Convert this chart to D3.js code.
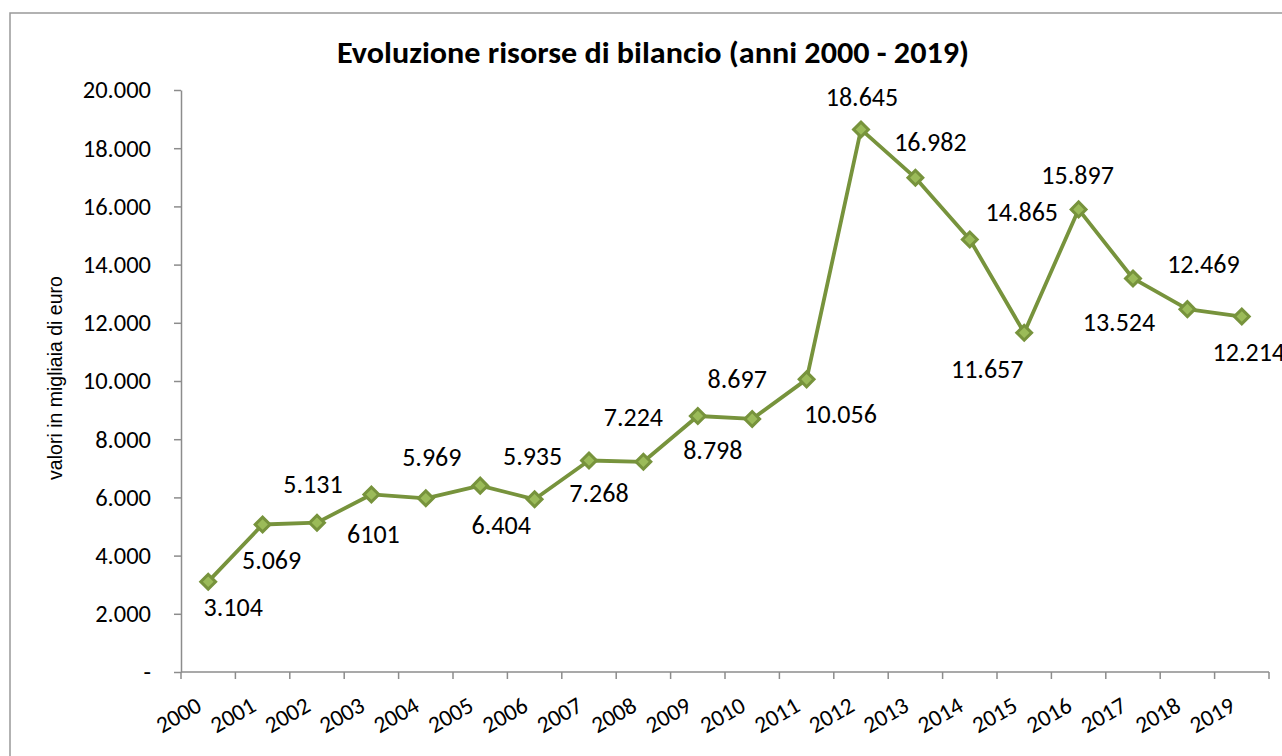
<!DOCTYPE html>
<html>
<head>
<meta charset="utf-8">
<script src="https://cdn.jsdelivr.net/npm/d3@7"></script>
<style>
  body { margin: 0; background: #fff; }
  svg { display: block; }
</style>
</head>
<body>
<svg width="1282" height="756"></svg>
<script>
// data
const years = ["2000", "2001", "2002", "2003", "2004", "2005", "2006", "2007", "2008", "2009",
    "2010", "2011", "2012", "2013", "2014", "2015", "2016", "2017", "2018", "2019"];
const values = [3104, 5069, 5131, 6101, 5969, 6404, 5935, 7268, 7224, 8798,
    8697, 10056, 18645, 16982, 14865, 11657, 15897, 13524, 12469, 12214];
const valueLabels = ["3.104", "5.069", "5.131", "6101", "5.969", "6.404", "5.935", "7.268", "7.224", "8.798",
    "8.697", "10.056", "18.645", "16.982", "14.865", "11.657", "15.897", "13.524", "12.469", "12.214"];
const yTicks = [0, 2000, 4000, 6000, 8000, 10000, 12000, 14000, 16000, 18000, 20000];

// where excel put each data label, relative to its point
const labelOffsets = [[25, 25], [9, 35], [-4, -39], [2, 39], [6, -42], [21, 39], [-2, -44], [10, 32],
    [-10, -45], [15, 34], [-15, -40], [34, 34], [1, -33], [15, -36], [52, -28], [-37, 36],
    [-1, -35], [-14, 43], [16, -46], [7, 35]];

const svg = d3.select("svg");
const font = "Carlito, Calibri, 'Open Sans', sans-serif";
const lineColor = "#77933c",
    markerFill = "#9bbb59",
    axisColor = "#8c8c8c";

const plot = { left: 181, right: 1269, top: 90, bottom: 672 };

// chart frame (runs off the right and bottom edges)
svg.append("rect")
    .attr("x", 10).attr("y", 13)
    .attr("width", 1400).attr("height", 900)
    .attr("fill", "#fff")
    .attr("stroke", "#999").attr("stroke-width", 1.5);

const x = d3.scaleBand().domain(years).range([plot.left, plot.right]);
const y = d3.scaleLinear().domain([0, 20000]).range([plot.bottom, plot.top]);
const cx = d => x(d) + x.bandwidth() / 2;

// title
svg.append("text")
    .attr("x", 653).attr("y", 63)
    .attr("text-anchor", "middle")
    .attr("font-family", font)
    .attr("font-weight", "bold")
    .attr("font-size", 30)
    .attr("textLength", 632)
    .attr("lengthAdjust", "spacingAndGlyphs")
    .text("Evoluzione risorse di bilancio (anni 2000 - 2019)");

// y axis
const itFormat = d3.formatLocale({ decimal: ",", thousands: ".", grouping: [3], currency: ["€", ""] }).format(",");
const yAxis = svg.append("g")
    .attr("transform", `translate(${plot.left},0)`)
    .call(d3.axisLeft(y)
        .tickValues(yTicks)
        .tickSize(7)
        .tickSizeOuter(0)
        .tickPadding(23)
        .tickFormat(d => d === 0 ? "-" : itFormat(d)));
yAxis.select(".domain").attr("stroke", axisColor).attr("stroke-width", 1.5);
yAxis.selectAll(".tick line").attr("stroke", axisColor).attr("stroke-width", 1.5);
yAxis.selectAll(".tick text")
    .attr("font-family", font)
    .attr("font-size", 24.5)
    .attr("fill", "#000");

svg.append("text")
    .attr("transform", "translate(55,378) rotate(-90)")
    .attr("text-anchor", "middle")
    .attr("dy", "0.35em")
    .attr("font-family", "'Liberation Sans', Arial, sans-serif")
    .attr("font-size", 19.5)
    .text("valori in migliaia di euro");

// x axis: ticks sit on the category boundaries
const xAxis = svg.append("g");
xAxis.append("line")
    .attr("x1", plot.left).attr("x2", plot.right)
    .attr("y1", plot.bottom).attr("y2", plot.bottom)
    .attr("stroke", axisColor).attr("stroke-width", 1.5);
xAxis.selectAll(".xtick")
    .data(years.map(d => x(d)).concat([plot.right]))
    .join("line")
    .attr("class", "xtick")
    .attr("x1", d => d).attr("x2", d => d)
    .attr("y1", plot.bottom).attr("y2", plot.bottom + 7)
    .attr("stroke", axisColor).attr("stroke-width", 1.5);
xAxis.selectAll(".xlabel")
    .data(years)
    .join("text")
    .attr("class", "xlabel")
    .attr("transform", d => `translate(${cx(d) - 5},${plot.bottom + 38}) rotate(-30)`)
    .attr("text-anchor", "end")
    .attr("font-family", font)
    .attr("font-size", 23.5)
    .text(d => d);

// the series
const line = d3.line()
    .x((d, i) => cx(years[i]))
    .y(d => y(d));

svg.append("path")
    .datum(values)
    .attr("d", line)
    .attr("fill", "none")
    .attr("stroke", lineColor)
    .attr("stroke-width", 3.8)
    .attr("stroke-linejoin", "round");

svg.selectAll(".marker")
    .data(values)
    .join("path")
    .attr("class", "marker")
    .attr("d", d3.symbol(d3.symbolSquare).size(110))
    .attr("transform", (d, i) => `translate(${cx(years[i])},${y(d)}) rotate(45)`)
    .attr("fill", markerFill)
    .attr("stroke", lineColor)
    .attr("stroke-width", 3);

svg.selectAll(".vlabel")
    .data(values)
    .join("text")
    .attr("class", "vlabel")
    .attr("x", (d, i) => cx(years[i]) + labelOffsets[i][0])
    .attr("y", (d, i) => y(d) + labelOffsets[i][1])
    .attr("dy", "0.36em")
    .attr("text-anchor", "middle")
    .attr("font-family", font)
    .attr("font-size", 26)
    .text((d, i) => valueLabels[i]);
</script>
</body>
</html>
